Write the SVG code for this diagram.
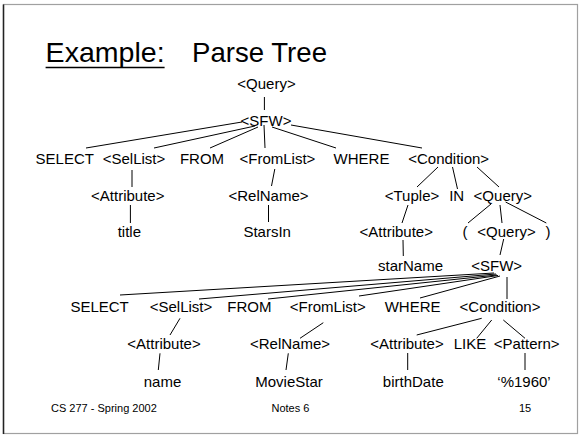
<svg xmlns="http://www.w3.org/2000/svg" width="581" height="437" viewBox="0 0 581 437">
<style>
.t{font-family:"Liberation Sans",Arial,sans-serif;font-size:15px;fill:#000;text-anchor:middle}
.f{font-family:"Liberation Sans",Arial,sans-serif;font-size:11px;fill:#000}
.h{font-family:"Liberation Sans",Arial,sans-serif;font-size:28px;fill:#000}
#connectors line{stroke:#000;stroke-width:1}
</style>
<rect width="581" height="437" fill="#fff"/>
<rect x="3.5" y="4.5" width="574" height="429" fill="#fff" stroke="#a0a0a0" stroke-width="1.2"/>
<line x1="3.5" y1="4.5" x2="3.5" y2="434" stroke="#222" stroke-width="1.5"/>
<g id="title">
<text class="h" x="45.6" y="62" textLength="119" lengthAdjust="spacingAndGlyphs">Example:</text>
<line x1="45.6" y1="67.5" x2="164.6" y2="67.5" stroke="#000" stroke-width="1.3"/>
<text class="h" x="192" y="62" textLength="135" lengthAdjust="spacingAndGlyphs">Parse Tree</text>
</g>
<g id="connectors">
<line x1="264.4" y1="97" x2="264.4" y2="110"/>
<line x1="242" y1="122" x2="86" y2="148"/>
<line x1="255" y1="126" x2="154" y2="148"/>
<line x1="258" y1="127" x2="210" y2="148"/>
<line x1="264" y1="125" x2="265" y2="148"/>
<line x1="272" y1="127" x2="336" y2="148"/>
<line x1="291" y1="125" x2="422" y2="148"/>
<line x1="132" y1="170" x2="132" y2="187"/>
<line x1="130.4" y1="205" x2="130.4" y2="223"/>
<line x1="274.8" y1="169" x2="271.5" y2="186"/>
<line x1="268.5" y1="205" x2="268.5" y2="222"/>
<line x1="438" y1="167" x2="417" y2="187"/>
<line x1="452.5" y1="167" x2="457.5" y2="189"/>
<line x1="477" y1="167" x2="499" y2="187"/>
<line x1="408" y1="205" x2="402" y2="223"/>
<line x1="491" y1="204" x2="468" y2="223"/>
<line x1="500" y1="205" x2="502" y2="223"/>
<line x1="505.6" y1="202" x2="546.3" y2="223"/>
<line x1="403" y1="240" x2="403.3" y2="256"/>
<line x1="503.7" y1="239" x2="500" y2="255"/>
<line x1="494" y1="273" x2="120" y2="295"/>
<line x1="496" y1="274" x2="199" y2="299"/>
<line x1="497" y1="275" x2="268" y2="299"/>
<line x1="498" y1="275.5" x2="359" y2="296"/>
<line x1="500" y1="276" x2="420" y2="298"/>
<line x1="507" y1="277" x2="507" y2="299"/>
<line x1="180" y1="318.3" x2="170" y2="335"/>
<line x1="323.3" y1="322.7" x2="300" y2="338.3"/>
<line x1="481.7" y1="318.3" x2="416.7" y2="335"/>
<line x1="491.7" y1="320" x2="476.7" y2="338.3"/>
<line x1="503.3" y1="320" x2="525" y2="338.3"/>
<line x1="160" y1="353.3" x2="158.3" y2="370"/>
<line x1="288.3" y1="353.3" x2="286" y2="370"/>
<line x1="407.7" y1="353" x2="407.7" y2="370"/>
<line x1="525" y1="353" x2="525" y2="370"/>
</g>
<g id="n-query0"><text class="t" x="266.5" y="89">&lt;Query&gt;</text></g>
<g id="n-sfw0"><text class="t" x="266" y="126">&lt;SFW&gt;</text></g>
<g id="n-select0"><text class="t" x="64.8" y="164">SELECT</text></g>
<g id="n-sellist0"><text class="t" x="134" y="164">&lt;SelList&gt;</text></g>
<g id="n-from0"><text class="t" x="202" y="164">FROM</text></g>
<g id="n-fromlist0"><text class="t" x="277.4" y="164">&lt;FromList&gt;</text></g>
<g id="n-where0"><text class="t" x="361.5" y="164">WHERE</text></g>
<g id="n-cond0"><text class="t" x="448.7" y="164">&lt;Condition&gt;</text></g>
<g id="n-attr0"><text class="t" x="127.8" y="201">&lt;Attribute&gt;</text></g>
<g id="n-relname0"><text class="t" x="268.5" y="201">&lt;RelName&gt;</text></g>
<g id="n-tuple"><text class="t" x="412" y="201">&lt;Tuple&gt;</text></g>
<g id="n-in"><text class="t" x="456.7" y="201">IN</text></g>
<g id="n-query1"><text class="t" x="502.8" y="201">&lt;Query&gt;</text></g>
<g id="n-title"><text class="t" x="129.3" y="237">title</text></g>
<g id="n-starsin"><text class="t" x="267.2" y="237">StarsIn</text></g>
<g id="n-attr1"><text class="t" x="396.3" y="237">&lt;Attribute&gt;</text></g>
<g id="n-lparen"><text class="t" x="465" y="237">(</text></g>
<g id="n-query2"><text class="t" x="506.5" y="237">&lt;Query&gt;</text></g>
<g id="n-rparen"><text class="t" x="548" y="237">)</text></g>
<g id="n-starname"><text class="t" x="410.5" y="271">starName</text></g>
<g id="n-sfw1"><text class="t" x="496.7" y="271">&lt;SFW&gt;</text></g>
<g id="n-select1"><text class="t" x="99.6" y="312">SELECT</text></g>
<g id="n-sellist1"><text class="t" x="181" y="312">&lt;SelList&gt;</text></g>
<g id="n-from1"><text class="t" x="249.4" y="312">FROM</text></g>
<g id="n-fromlist1"><text class="t" x="327.8" y="312">&lt;FromList&gt;</text></g>
<g id="n-where1"><text class="t" x="412.6" y="312">WHERE</text></g>
<g id="n-cond1"><text class="t" x="500" y="312">&lt;Condition&gt;</text></g>
<g id="n-attr2"><text class="t" x="164" y="349">&lt;Attribute&gt;</text></g>
<g id="n-relname1"><text class="t" x="290" y="349">&lt;RelName&gt;</text></g>
<g id="n-attr3"><text class="t" x="407" y="349">&lt;Attribute&gt;</text></g>
<g id="n-like"><text class="t" x="470" y="349">LIKE</text></g>
<g id="n-pattern"><text class="t" x="526.7" y="349">&lt;Pattern&gt;</text></g>
<g id="n-name"><text class="t" x="162.5" y="387">name</text></g>
<g id="n-moviestar"><text class="t" x="289" y="387">MovieStar</text></g>
<g id="n-birthdate"><text class="t" x="413.3" y="387">birthDate</text></g>
<g id="n-str"><text class="t" x="524" y="387">‘%1960’</text></g>
<g id="footer">
<text class="f" x="51" y="412">CS 277 - Spring 2002</text>
<text class="f" x="290.4" y="412" text-anchor="middle">Notes 6</text>
<text class="f" x="525" y="412" text-anchor="middle">15</text>
</g>
</svg>
